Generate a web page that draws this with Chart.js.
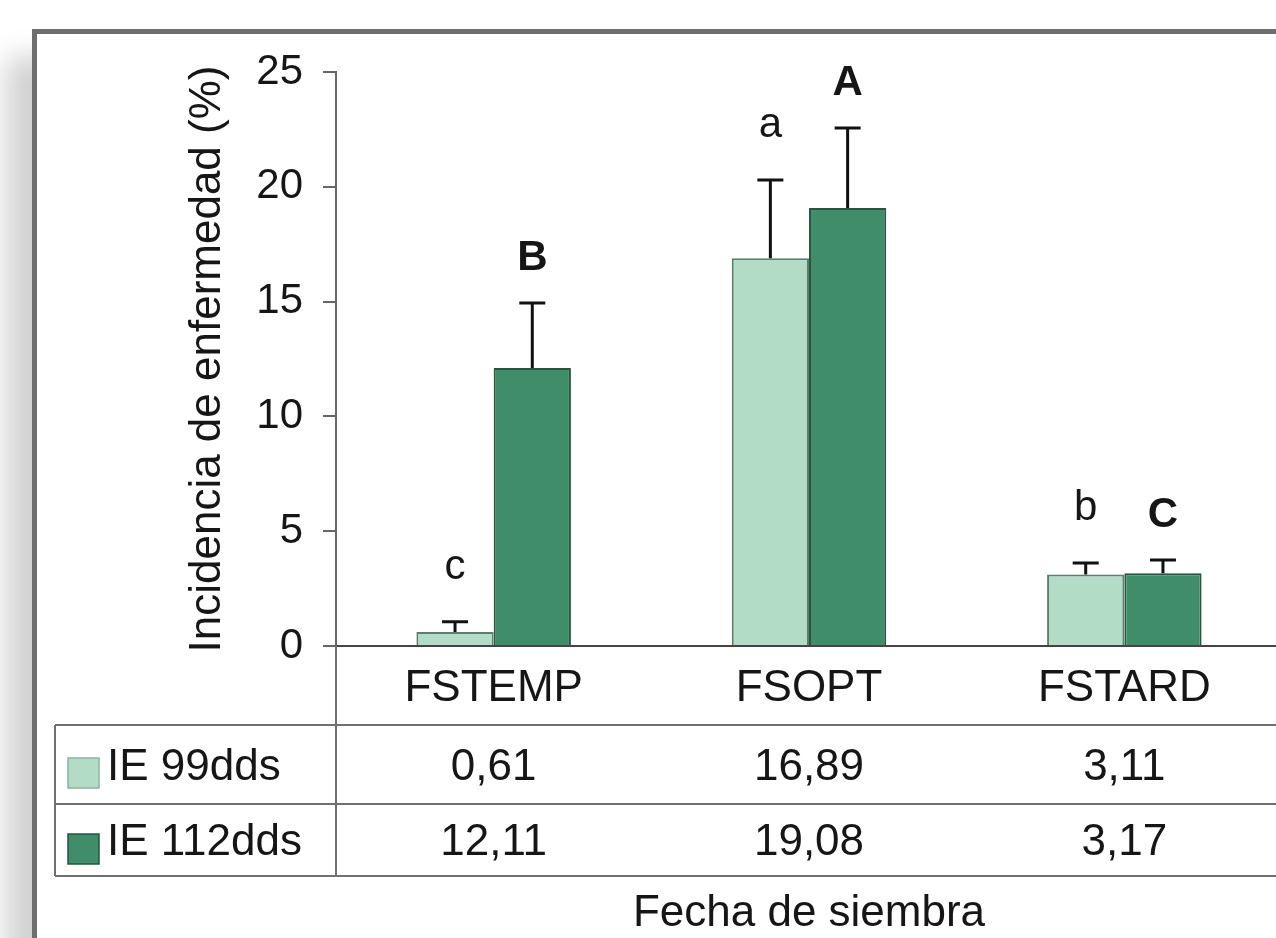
<!DOCTYPE html>
<html><head><meta charset="utf-8">
<script src="https://cdn.jsdelivr.net/npm/chart.js@4"></script>
<style>
html,body{margin:0;padding:0;background:#fff;overflow:hidden;width:1276px;height:938px;}
#frame{position:absolute;left:32px;top:29px;width:1400px;height:1000px;border-left:5px solid #6e6e6e;border-top:5px solid #6e6e6e;background:#fff;box-shadow:-26px 28px 26px rgba(0,0,0,0.18);}
#wrap{position:absolute;left:0;top:0;width:1290px;height:938px;}
</style></head><body>
<div id="frame"></div>
<div id="wrap"><canvas id="c" width="1290" height="938"></canvas></div>
<script>
// ---- data ----
const categories = ['FSTEMP', 'FSOPT', 'FSTARD'];
const seriesNames = ['IE 99dds', 'IE 112dds'];
const ie99 = [0.61, 16.89, 3.11];
const ie112 = [12.11, 19.08, 3.17];
const err99 = [0.45, 3.41, 0.50];
const err112 = [2.83, 3.48, 0.58];
const letters99 = ['c', 'a', 'b'];
const letters112 = ['B', 'A', 'C'];
const yTicks = [0, 5, 10, 15, 20, 25];

const FONT = '"Liberation Sans", Arial, sans-serif';
const TXT = '#161616';
const LIGHT = '#b2dcc6';
const DARK = '#3f8e69';

const fmt = v => v.toFixed(2).replace('.', ',');

const extras = {
  id: 'extras',
  afterDatasetsDraw(chart) {
    const ctx = chart.ctx, ys = chart.scales.y;
    const errs = [err99, err112];
    const lets = [letters99, letters112];
    ctx.save();
    chart.data.datasets.forEach((ds, di) => {
      const meta = chart.getDatasetMeta(di);
      meta.data.forEach((bar, i) => {
        const x = bar.x;
        const yTop = ys.getPixelForValue(ds.data[i]);
        const yErr = ys.getPixelForValue(ds.data[i] + errs[di][i]);
        ctx.strokeStyle = '#111';
        ctx.lineWidth = 3;
        ctx.beginPath();
        ctx.moveTo(x, yTop); ctx.lineTo(x, yErr);
        ctx.moveTo(x - 13, yErr); ctx.lineTo(x + 13, yErr);
        ctx.stroke();
        ctx.fillStyle = TXT;
        ctx.textAlign = 'center';
        ctx.textBaseline = 'alphabetic';
        ctx.font = (di === 1 ? 'bold ' : '') + '42px ' + FONT;
        ctx.fillText(lets[di][i], x, yErr - (di === 1 ? 33 : 43));
      });
    });
    ctx.restore();
  },
  afterDraw(chart) {
    const ctx = chart.ctx, ca = chart.chartArea, xs = chart.scales.x;
    const W = chart.width;
    const rows = [725, 804, 876];
    const tableLeft = 55;
    ctx.save();
    ctx.strokeStyle = '#707070';
    ctx.lineWidth = 2;
    ctx.beginPath();
    rows.forEach(r => { ctx.moveTo(tableLeft, r); ctx.lineTo(W, r); });
    ctx.moveTo(tableLeft, rows[0]); ctx.lineTo(tableLeft, rows[2]);
    ctx.moveTo(ca.left, ca.bottom); ctx.lineTo(ca.left, rows[2]);
    ctx.stroke();

    const series = [ie99, ie112];
    const cols = [LIGHT, DARK];
    const borders = ['#8fb3a0', '#24553d'];
    const centers = [768, 843];
    const sq = [773, 849];
    ctx.font = '44px ' + FONT;
    ctx.textBaseline = 'middle';
    ctx.fillStyle = TXT;
    series.forEach((vals, si) => {
      ctx.fillStyle = cols[si];
      ctx.fillRect(68, sq[si] - 15, 31, 30);
      ctx.strokeStyle = borders[si];
      ctx.lineWidth = 1.5;
      ctx.strokeRect(68, sq[si] - 15, 31, 30);
      ctx.fillStyle = TXT;
      ctx.textAlign = 'left';
      ctx.fillText(seriesNames[si], 107, centers[si]);
      ctx.textAlign = 'center';
      vals.forEach((v, i) => {
        ctx.fillText(fmt(v), xs.getPixelForValue(i), centers[si]);
      });
    });
    ctx.restore();
  }
};

new Chart(document.getElementById('c'), {
  type: 'bar',
  data: {
    labels: categories,
    datasets: [
      { label: seriesNames[0], data: ie99, backgroundColor: LIGHT, borderColor: '#5d7d6b', borderWidth: 2 },
      { label: seriesNames[1], data: ie112, backgroundColor: DARK, borderColor: '#2a5640', borderWidth: 2 }
    ]
  },
  options: {
    responsive: false,
    animation: false,
    devicePixelRatio: 1,
    datasets: { bar: { categoryPercentage: 0.49, barPercentage: 1.0 } },
    layout: { padding: { top: 72, left: 0, right: 8, bottom: 0 } },
    plugins: { legend: { display: false }, tooltip: { enabled: false } },
    scales: {
      x: {
        grid: { display: false, drawTicks: false },
        border: { display: true, color: '#444', width: 2 },
        ticks: { padding: 16, color: TXT, font: { size: 44, family: FONT, lineHeight: 1.2 } },
        title: { display: true, text: 'Fecha de siembra', color: TXT, font: { size: 44, family: FONT, lineHeight: 1.12 }, padding: { top: 0, bottom: 0 } },
        afterFit(s) { s.height = 292; }
      },
      y: {
        min: 0, max: 25,
        afterBuildTicks(s) { s.ticks = yTicks.map(v => ({ value: v })); },
        ticks: { padding: 20, color: TXT, font: { size: 42, family: FONT, lineHeight: 1.2 } },
        grid: { display: true, drawOnChartArea: false, drawTicks: true, tickLength: 13, color: '#666', lineWidth: 2 },
        border: { display: true, color: '#666', width: 2 },
        title: { display: true, text: 'Incidencia de enfermedad (%)', color: TXT, font: { size: 44, family: FONT, lineHeight: 1.2 }, padding: { top: 181, bottom: 0 } },
        afterFit(s) { s.width = 336; }
      }
    }
  },
  plugins: [extras]
});
</script>
</body></html>
